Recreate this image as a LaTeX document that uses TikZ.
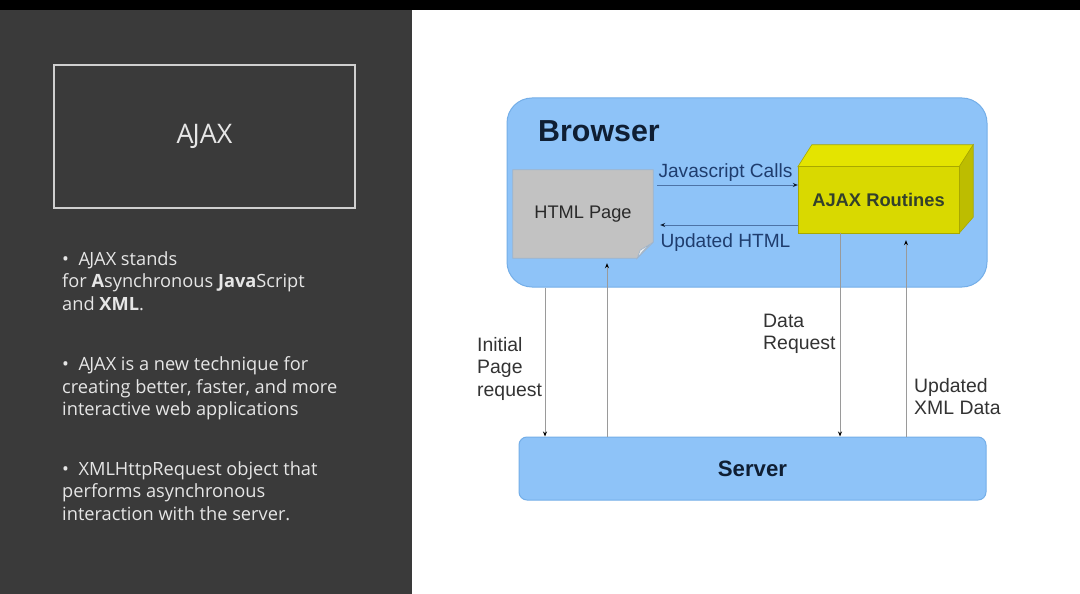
\documentclass[tikz,border=0pt]{standalone}
\usepackage{fontspec}
\setmainfont{Liberation Sans}
\newfontfamily\panelfont{Open Sans}
\usetikzlibrary{arrows.meta,calc}
\newcommand{\myajax}{A\kern-0.04em JAX}
\definecolor{panelbg}{HTML}{3A3A3A}
\definecolor{paneltxt}{HTML}{E6E6E6}
\definecolor{boxline}{HTML}{CFCFCF}
\definecolor{bluefill}{HTML}{8EC3F8}
\definecolor{blueline}{HTML}{74AEE8}
\definecolor{pagefill}{HTML}{C2C2C2}
\definecolor{pageline}{HTML}{9FB3C8}
\definecolor{yfront}{HTML}{D9D900}
\definecolor{ytop}{HTML}{E4E400}
\definecolor{yside}{HTML}{BDBD00}
\definecolor{yline}{HTML}{A8A800}
\definecolor{darktxt}{HTML}{0F1E33}
\definecolor{bluetxt}{HTML}{1F3D6E}
\definecolor{bluearrow}{HTML}{4D73A6}
\definecolor{grayline}{HTML}{9A9A9A}
\definecolor{graytxt}{HTML}{333333}
\tikzset{
  panelbox/.style={draw=boxline,line width=1.5bp,minimum width=301bp,minimum height=143bp,inner sep=0pt},
  bullettxt/.style={text=paneltxt,align=left,anchor=north west,inner sep=0pt,font=\panelfont\fontsize{18.3}{23}\selectfont},
  region/.style={fill=bluefill,draw=blueline,line width=1bp,inner sep=0pt},
  bluelbl/.style={text=bluetxt,font=\fontsize{19.2}{22}\selectfont,inner sep=0pt},
  vlbl/.style={text=graytxt,align=left,anchor=north west,inner sep=0pt,font=\fontsize{19.5}{22.5}\selectfont},
  harrow/.style={draw=bluearrow,line width=0.8bp,-{Stealth[length=5bp,width=4bp,color=darktxt]}},
  varrow/.style={draw=grayline,line width=0.8bp,-{Stealth[length=5bp,width=4bp,color=black]}},
}
\begin{document}
\begin{tikzpicture}[x=1bp,y=-1bp]
\useasboundingbox (0,0) rectangle (1080,594);
\fill[white] (0,0) rectangle (1080,594);
\fill[panelbg] (0,0) rectangle (412,594);
\fill[black] (0,0) rectangle (1080,10);
% left panel
\node[panelbox] (titlebox) at (204.5,136.5) {};
\node[text=paneltxt,font=\panelfont\fontsize{27}{30}\selectfont] (title) at (titlebox.center) {\myajax};
\node[bullettxt] (b1) at (62,251) {\textbullet\ \ \myajax\ stands\\for \textbf{A}synchronous \textbf{Java}Script\\and \textbf{XML}.};
\node[bullettxt] (b2) at (62,356) {\textbullet\ \ \myajax\ is a new technique for\\creating better, faster, and more\\interactive web applications};
\node[bullettxt] (b3) at (62,461) {\textbullet\ \ XMLHttpRequest object that\\performs asynchronous\\interaction with the server.};
% browser
\node[region,rounded corners=25bp,minimum width=480bp,minimum height=189bp] (browser) at (747,192.5) {};
\node[anchor=west,inner sep=0pt,text=darktxt,font=\bfseries\fontsize{30.5}{32}\selectfont] (btitle) at (538,131) {Browser};
% html page
\node[inner sep=0pt,minimum width=140bp,minimum height=88bp] (html) at (583,214) {};
\fill[pagefill,draw=pageline,line width=0.8bp] (html.north west) -- (html.north east) -- ([yshift=16bp]html.south east) -- ([xshift=-16bp]html.south east) -- (html.south west) -- cycle;
\fill[white!70!pagefill,draw=pageline,line width=0.6bp] ([yshift=16bp]html.south east) .. controls ([xshift=-8bp,yshift=10bp]html.south east) .. ([xshift=-16bp]html.south east) -- ([xshift=-13bp,yshift=8bp]html.south east) -- cycle;
\node[text=graytxt!80!black,font=\fontsize{18.3}{20}\selectfont] (htmltxt) at (html.center) {HTML Page};
% ajax cube
\node[inner sep=0pt,minimum width=161bp,minimum height=66bp] (ajax) at (878.5,200) {};
\fill[ytop,draw=yline,line width=0.6bp] (ajax.north west) -- ([xshift=14bp,yshift=22bp]ajax.north west) -- ([xshift=14bp,yshift=22bp]ajax.north east) -- (ajax.north east) -- cycle;
\fill[yside,draw=yline,line width=0.6bp] (ajax.north east) -- ([xshift=14bp,yshift=22bp]ajax.north east) -- ([xshift=14bp,yshift=16bp]ajax.south east) -- (ajax.south east) -- cycle;
\fill[yfront,draw=yline,line width=0.6bp] (ajax.north west) rectangle (ajax.south east);
\node[text=darktxt!85!yellow,font=\bfseries\fontsize{18.4}{20}\selectfont] (ajaxtxt) at (ajax.center) {AJAX Routines};
% horizontal arrows
\coordinate (j1) at ([yshift=29bp]html.east);
\coordinate (j2) at (j1 -| ajax.west);
\draw[harrow] ([xshift=4bp]j1) -- (j2);
\node[bluelbl,anchor=south] (jlbl) at ([yshift=3bp]$(j1)!0.5!(j2)$) {Javascript Calls};
\coordinate (u1) at ([yshift=-25bp]ajax.west);
\coordinate (u2) at (u1 -| html.east);
\draw[harrow] (u1) -- ([xshift=7bp]u2);
\node[bluelbl,anchor=north] (ulbl) at ([yshift=-8bp]$(u1)!0.5!(u2)$) {Updated HTML};
% server
\node[region,rounded corners=8bp,minimum width=467bp,minimum height=63bp,text=darktxt,font=\bfseries\fontsize{22.3}{24}\selectfont] (server) at (752.5,468.5) {Server};
% vertical arrows
\coordinate (x1) at (545,0);
\coordinate (x2) at (607,0);
\coordinate (x3) at (840,0);
\coordinate (x4) at (906,0);
\draw[varrow] (x1 |- browser.south) -- (x1 |- server.north);
\draw[varrow] (x2 |- server.north) -- ([yshift=-5bp]x2 |- html.south);
\draw[varrow] (x3 |- ajax.south) -- (x3 |- server.north);
\draw[varrow] (x4 |- server.north) -- ([yshift=-7bp]x4 |- ajax.south);
% labels
\node[vlbl] (l1) at (477,337) {Initial\\Page\\request};
\node[vlbl] (l2) at (763,314) {Data\\Request};
\node[vlbl] (l3) at (914,378) {Updated\\XML Data};
\end{tikzpicture}
\end{document}
